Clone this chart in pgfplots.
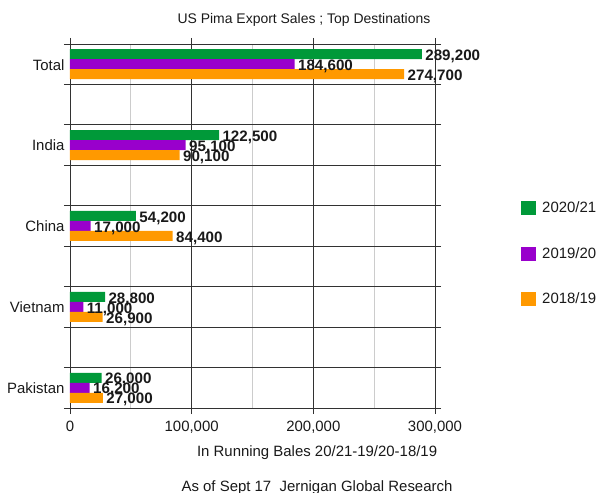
\documentclass[border=0pt]{standalone}
\usepackage{pgfplots}
\pgfplotsset{compat=1.18}
\usepackage{fontspec}
\setmainfont{Liberation Sans}
\definecolor{cgreen}{RGB}{0,153,57}
\definecolor{cpurple}{RGB}{153,0,204}
\definecolor{corange}{RGB}{255,153,0}
\definecolor{axgray}{RGB}{50,50,50}
\begin{document}
\begin{tikzpicture}
\path[use as bounding box] (-70bp,-85bp) rectangle (528bp,408bp);
\begin{axis}[
  scale only axis,
  width=365bp, height=364bp,
  xbar, bar width=10bp,
  xmin=0, xmax=300000,
  ymin=-0.25, ymax=4.25,
  xtick={0,100000,200000,300000},
  minor x tick num=1,
  xmajorgrids, xminorgrids,
  major x grid style={axgray, line width=0.9bp},
  minor x grid style={black!20, line width=0.9bp},
  ytick={-0.25,0.25,0.75,1.25,1.75,2.25,2.75,3.25,3.75,4.25},
  yticklabels={},
  ymajorgrids,
  major y grid style={axgray, line width=0.9bp},
  extra y ticks={0,1,2,3,4},
  extra y tick labels={Pakistan,Vietnam,China,India,Total},
  extra y tick style={major tick length=0pt, grid=none, yticklabel style={xshift=-2bp, yshift=-0.5bp}},
  tick align=outside,
  major tick length=6bp,
  minor tick length=0pt,
  tick style={axgray, line width=0.9bp},
  axis line style={axgray, line width=0.9bp},
  scaled x ticks=false,
  /pgf/number format/.cd, fixed, precision=0, 1000 sep={,}, assume math mode=true,
  /pgfplots/.cd,
  tick label style={font=\fontsize{15}{17}\selectfont, text=black!90},
  xticklabel style={yshift=-3.5bp},
  nodes near coords,
  nodes near coords style={font=\fontsize{15.2}{17}\selectfont\bfseries, text=black!90, anchor=west, yshift=-2bp},
  title={US Pima Export Sales ; Top Destinations},
  title style={font=\fontsize{14}{16}\selectfont, at={(0.641,1)}, anchor=center, yshift=18bp, text=black!90},
  xlabel={In Running Bales 20/21-19/20-18/19},
  xlabel style={font=\fontsize{15}{17}\selectfont, at={(0.677,-0.1154)}, anchor=center, yshift=-3bp, text=black!90},
  legend style={draw=none, fill=none, at={(1.2356,0.569)}, anchor=north west, inner sep=0pt,
    font=\fontsize{15}{17}\selectfont, row sep=31.5bp, text=black!90,
    nodes={inner sep=0pt},
    /tikz/every odd column/.style={column sep=6bp}},
  legend cell align=left,
  legend image code/.code={\fill (0bp,-7bp) rectangle (15bp,7bp);},
]
\addplot[draw=none, fill=cgreen, bar shift=10bp] coordinates {(289200,4) (122500,3) (54200,2) (28800,1) (26000,0)};
\addplot[draw=none, fill=cpurple, bar shift=0bp] coordinates {(184600,4) (95100,3) (17000,2) (11000,1) (16200,0)};
\addplot[draw=none, fill=corange, bar shift=-10bp] coordinates {(274700,4) (90100,3) (84400,2) (26900,1) (27000,0)};
\legend{2020/21,2019/20,2018/19}
\end{axis}
\node[font=\fontsize{15}{17}\selectfont, text=black!90, anchor=center] at (247bp,-79.5bp) {As of Sept 17\ \ Jernigan Global Research};
\end{tikzpicture}
\end{document}
